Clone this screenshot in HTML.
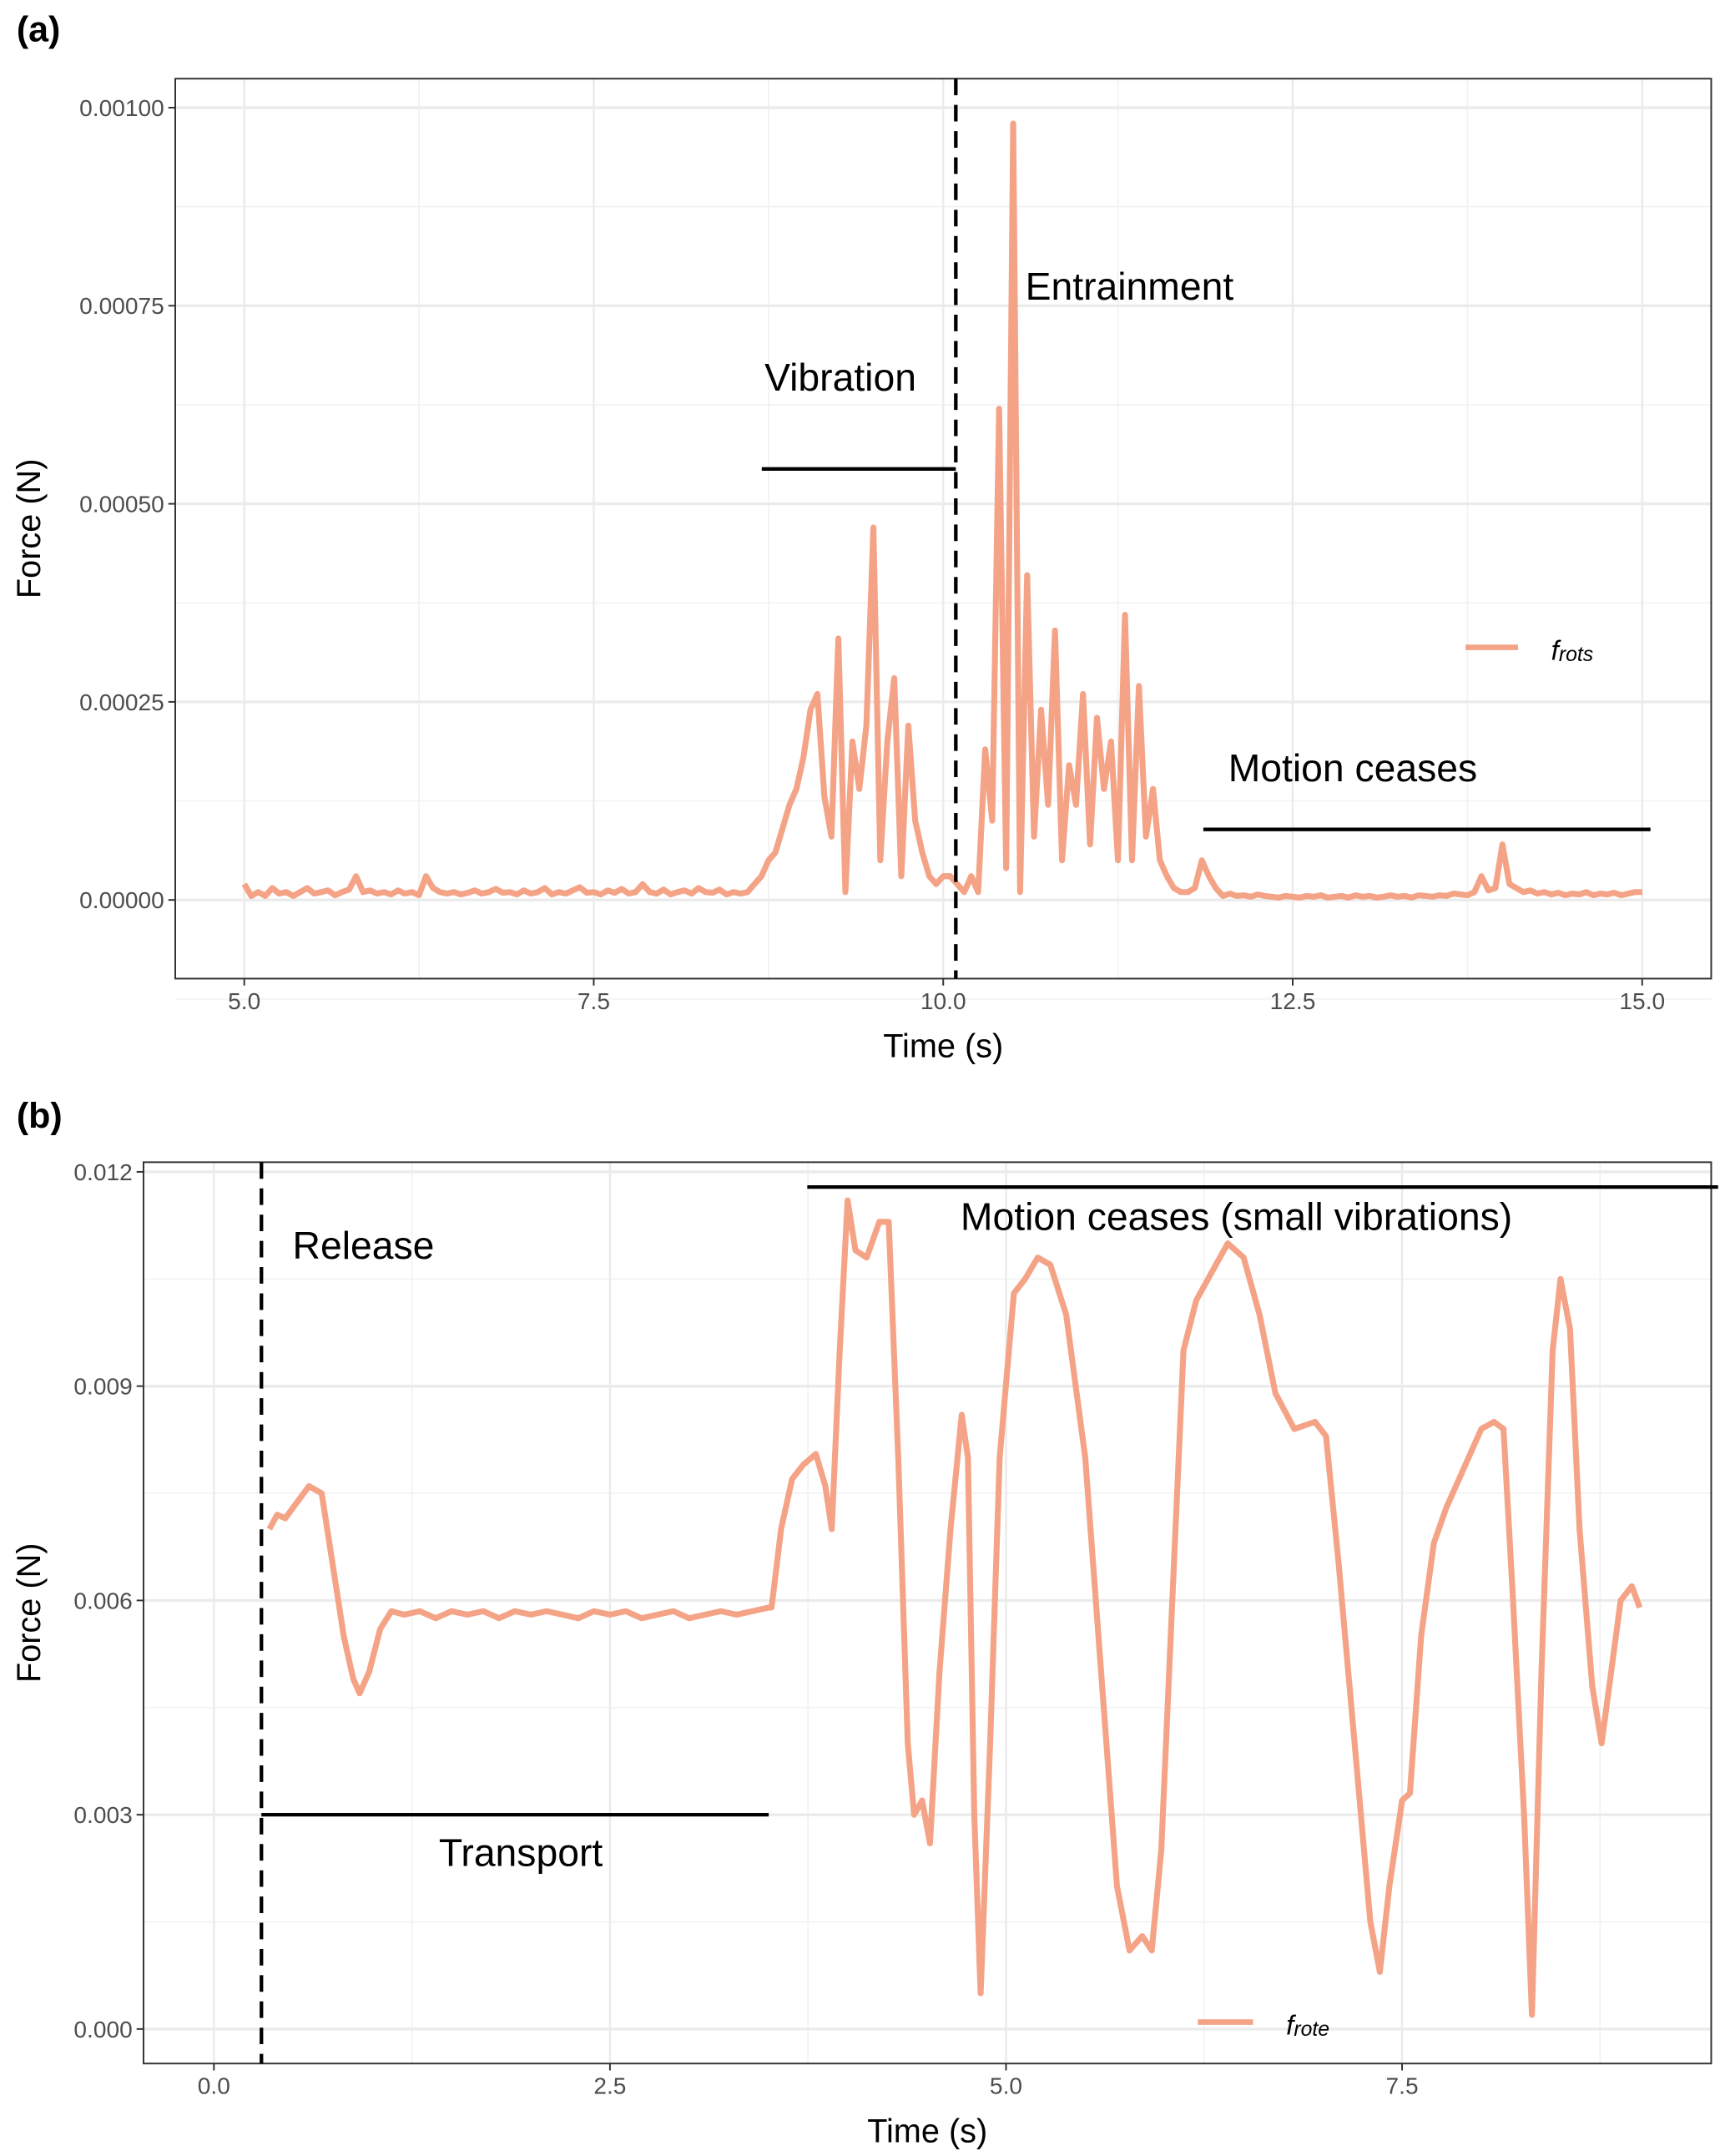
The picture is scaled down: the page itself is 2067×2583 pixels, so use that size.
<!DOCTYPE html>
<html><head><meta charset="utf-8"><style>
html,body{margin:0;padding:0;background:#fff;}
svg{display:block;}
text{font-family:"Liberation Sans",sans-serif;}
</style></head><body>
<svg id="fig" width="2067" height="2583" viewBox="0 0 1250 1562" preserveAspectRatio="none" xmlns="http://www.w3.org/2000/svg">
<g id="pa"></g>
<g id="pb"></g>
</svg>
<script>
// Panel (a) data: force in units of 1e-5 N, time = 5.0 + i*0.05
const aStart = 5.0, aStep = 0.05;
const aForce = [
2,0.5,1,0.5,1.5,0.8,1,0.5,1,1.5,
0.8,1,1.2,0.6,1,1.3,3,1,1.2,0.8,
1,0.7,1.2,0.8,1,0.6,3,1.5,1,0.8,
1,0.7,0.9,1.2,0.8,1,1.4,0.9,1,0.7,
1.2,0.8,1,1.5,0.7,1,0.8,1.2,1.6,0.9,
1,0.7,1.2,0.9,1.4,0.8,1,2,1,0.8,
1.3,0.7,1,1.2,0.8,1.5,1,0.9,1.3,0.7,
1,0.8,
1,2,3,5,6,9,12,14,18,24,26,13,8,33,1,20,14,22,47,5,20,28,3,22,10,6,3,2,3,3,2,
1,3,1,19,10,62,4,98,1,41,8,24,12,34,5,17,12,26,7,23,14,20,5,36,5,27,8,14,5,3,1.5,1,1,1.5,5,3,1.5,0.5,
0.8,0.5,0.6,0.4,0.7,0.5,0.4,0.3,0.5,0.4,
0.3,0.5,0.4,0.6,0.3,0.4,0.5,0.3,0.6,0.4,
0.5,0.3,0.4,0.6,0.4,0.5,0.3,0.6,0.5,0.4,
0.6,0.5,0.8,0.7,0.6,1,3,1.2,1.5,7,
2,1.5,1,1.2,0.8,1,0.7,0.9,0.6,0.8,
0.7,1,0.6,0.8,0.7,0.9,0.6,0.8,1,1
];
const aXTicks = [5.0, 7.5, 10.0, 12.5, 15.0];
const aXTickLabels = ["5.0","7.5","10.0","12.5","15.0"];
const aYTicks = [0, 0.00025, 0.0005, 0.00075, 0.001];
const aYTickLabels = ["0.00000","0.00025","0.00050","0.00075","0.00100"];

// Panel (b) data: time (s) and force in units of 1e-3 N
const bTime = [0.35,0.4,0.45,0.5,0.6,0.68,0.75,0.82,0.88,0.92,0.98,1.05,1.12,
1.2,1.3,1.4,1.5,1.6,1.7,1.8,1.9,2.0,2.1,2.2,2.3,2.4,2.5,2.6,2.7,2.8,2.9,3.0,3.1,3.2,3.3,3.4,3.5,
3.52,3.58,3.65,3.72,3.8,3.86,3.9,3.95,4.0,4.05,4.12,4.2,4.26,4.32,4.38,4.42,4.47,4.52,4.58,4.65,4.72,4.76,4.8,4.84,4.9,4.96,
5.05,5.12,5.2,5.28,5.38,5.5,5.6,5.7,5.78,5.86,5.92,5.98,6.05,6.12,6.2,6.3,6.4,6.5,6.6,6.7,6.82,6.95,7.02,7.1,7.2,7.3,7.36,7.42,7.5,7.55,7.62,7.7,7.78,7.9,8.0,8.08,8.14,8.2,8.27,8.32,8.38,8.45,8.5,8.56,8.62,8.7,8.76,8.82,8.88,8.95,9.0];
const bForce = [7.0,7.2,7.15,7.3,7.6,7.5,6.5,5.5,4.9,4.7,5.0,5.6,5.85,
5.8,5.85,5.75,5.85,5.8,5.85,5.75,5.85,5.8,5.85,5.8,5.75,5.85,5.8,5.85,5.75,5.8,5.85,5.75,5.8,5.85,5.8,5.85,5.9,
5.9,7.0,7.7,7.9,8.05,7.6,7.0,9.5,11.6,10.9,10.8,11.3,11.3,8.0,4.0,3.0,3.2,2.6,5.0,7.0,8.6,8.0,3.0,0.5,4.0,8.0,
10.3,10.5,10.8,10.7,10.0,8.0,5.0,2.0,1.1,1.3,1.1,2.5,6.0,9.5,10.2,10.6,11.0,10.8,10.0,8.9,8.4,8.5,8.3,6.5,4.0,1.5,0.8,2.0,3.2,3.3,5.5,6.8,7.3,7.9,8.4,8.5,8.4,6.0,3.0,0.2,5.0,9.5,10.5,9.8,7.0,4.8,4.0,5.0,6.0,6.2,5.9];
const bXTicks = [0, 2.5, 5.0, 7.5];
const bXTickLabels = ["0.0","2.5","5.0","7.5"];
const bYTicks = [0, 0.003, 0.006, 0.009, 0.012];
const bYTickLabels = ["0.000","0.003","0.006","0.009","0.012"];

const NS = "http://www.w3.org/2000/svg";
const LINE = "#F4A386";
function mk(parent, tag, attrs, txt){
  const e = document.createElementNS(NS, tag);
  for (const k in attrs) e.setAttribute(k, attrs[k]);
  if (txt !== undefined) e.textContent = txt;
  parent.appendChild(e);
  return e;
}
function axisFns(x0,x1,y0,y1,dx0,dx1,dy0,dy1){
  return {
    sx: v => x0 + (v-dx0)/(dx1-dx0)*(x1-x0),
    sy: v => y0 + (v-dy0)/(dy1-dy0)*(y1-y0)
  };
}

function panel(g, o){
  const {L,R,T,B,sx,sy,xt,xtl,yt,ytl,xMinor,yMinor} = o;
  const bg = mk(g,'rect',{x:L,y:T,width:R-L,height:B-T,fill:'#fff'});
  
  
  xMinor.forEach(v=>{ const l=mk(g,'line',{x1:sx(v),x2:sx(v),y1:T,y2:B,stroke:'#f2f2f2','stroke-width':1});
     });
  yMinor.forEach(v=>{ const l=mk(g,'line',{x1:L,x2:R,y1:sy(v),y2:sy(v),stroke:'#f2f2f2','stroke-width':1});
     });
  xt.forEach((v,i)=>{
    const l=mk(g,'line',{x1:sx(v),x2:sx(v),y1:T,y2:B,stroke:'#ebebeb','stroke-width':1.5});
     
    const t=mk(g,'line',{x1:sx(v),x2:sx(v),y1:B,y2:B+5,stroke:'#333','stroke-width':1.2});
     
    const tx=mk(g,'text',{x:sx(v),y:B+22,'font-size':17,fill:'#4d4d4d','text-anchor':'middle'},xtl[i]);
     
  });
  yt.forEach((v,i)=>{
    const l=mk(g,'line',{x1:L,x2:R,y1:sy(v),y2:sy(v),stroke:'#ebebeb','stroke-width':2});
     
    const t=mk(g,'line',{x1:L-5,x2:L,y1:sy(v),y2:sy(v),stroke:'#333','stroke-width':1.2});
     
    const tx=mk(g,'text',{x:L-8,y:sy(v)+6,'font-size':17,fill:'#4d4d4d','text-anchor':'end'},ytl[i]);
     
  });
}

// Panel A
(function(){
  const g = document.getElementById('pa');
  const L=127,R=1240,T=57,B=709;
  const {sx,sy} = axisFns(177,1190,652,78,5,15,0,0.001);
  panel(g,{L,R,T,B,sx,sy,xt:aXTicks,xtl:aXTickLabels,yt:aYTicks,ytl:aYTickLabels,
    xMinor:[6.25,8.75,11.25,13.75],yMinor:[0.000125,0.000375,0.000625,0.000875,-0.000125]});
  const pts = aForce.map((v,i)=> sx(aStart+i*aStep).toFixed(1)+','+sy(v*1e-5).toFixed(1)).join(' ');
  const pl = mk(g,'polyline',{points:pts,fill:'none',stroke:LINE,'stroke-width':4.3,'stroke-linejoin':'round'});
   
  const border = mk(g,'rect',{x:L,y:T,width:R-L,height:B-T,fill:'none',stroke:'#333','stroke-width':1.2});
   
  const d = mk(g,'line',{x1:sx(10.09),x2:sx(10.09),y1:T,y2:B,stroke:'#000','stroke-width':2.6,'stroke-dasharray':'12,7'});
   
  const s1 = mk(g,'line',{x1:552,x2:sx(10.09),y1:sy(0.000544),y2:sy(0.000544),stroke:'#000','stroke-width':2.6});
   
  const s2 = mk(g,'line',{x1:872,x2:1196,y1:sy(0.000089),y2:sy(0.000089),stroke:'#000','stroke-width':2.6});
   
  const t1=mk(g,'text',{x:554,y:283,'font-size':28},'Vibration');
   
  const t2=mk(g,'text',{x:743,y:217,'font-size':28},'Entrainment');
   
  const t3=mk(g,'text',{x:890,y:566,'font-size':28},'Motion ceases');
   
  const lg=mk(g,'line',{x1:1062,x2:1100,y1:469,y2:469,stroke:LINE,'stroke-width':4});
   
  const lt=mk(g,'text',{x:1124,y:478,'font-size':20,'font-style':'italic','font-family':'Liberation Serif, serif'});
   
  lt.innerHTML = 'f<tspan font-size="15" dy="1">rots</tspan>';
  const xa=mk(g,'text',{x:(L+R)/2,y:766,'font-size':24,'text-anchor':'middle'},'Time (s)');
   
  const ya=mk(g,'text',{x:29,y:(T+B)/2,'font-size':24,'text-anchor':'middle',transform:`rotate(-90 29 ${(T+B)/2})`},'Force (N)');
   
  const pl2=mk(g,'text',{x:12,y:30,'font-size':26,'font-weight':'bold'},'(a)');
   
})();

// Panel B
(function(){
  const g = document.getElementById('pb');
  const L=104,R=1240,T=842,B=1495;
  const {sx,sy} = axisFns(155,1016,1470,849,0,7.5,0,0.012);
  panel(g,{L,R,T,B,sx,sy,xt:bXTicks,xtl:bXTickLabels,yt:bYTicks,ytl:bYTickLabels,
    xMinor:[1.25,3.75,6.25,8.75],yMinor:[0.0015,0.0045,0.0075,0.0105]});
  const pts = bTime.map((t,i)=> sx(t).toFixed(1)+','+sy(bForce[i]*1e-3).toFixed(1)).join(' ');
  const pl = mk(g,'polyline',{points:pts,fill:'none',stroke:LINE,'stroke-width':4.3,'stroke-linejoin':'round'});
   
  const border = mk(g,'rect',{x:L,y:T,width:R-L,height:B-T,fill:'none',stroke:'#333','stroke-width':1.2});
   
  const d = mk(g,'line',{x1:sx(0.3),x2:sx(0.3),y1:T,y2:B,stroke:'#000','stroke-width':2.6,'stroke-dasharray':'12,7'});
   
  const s1 = mk(g,'line',{x1:sx(0.3),x2:557,y1:sy(0.003),y2:sy(0.003),stroke:'#000','stroke-width':2.6});
   
  const s2 = mk(g,'line',{x1:585,x2:1245,y1:860,y2:860,stroke:'#000','stroke-width':2.6});
   
  const t1=mk(g,'text',{x:212,y:912,'font-size':28},'Release');
   
  const t2=mk(g,'text',{x:318,y:1352,'font-size':28},'Transport');
   
  const t3=mk(g,'text',{x:696,y:891,'font-size':28},'Motion ceases (small vibrations)');
   
  const lg=mk(g,'line',{x1:868,x2:908,y1:1465,y2:1465,stroke:LINE,'stroke-width':4});
   
  const lt=mk(g,'text',{x:932,y:1474,'font-size':20,'font-style':'italic','font-family':'Liberation Serif, serif'});
   
  lt.innerHTML = 'f<tspan font-size="15" dy="1">rote</tspan>';
  const xa=mk(g,'text',{x:(L+R)/2,y:1552,'font-size':24,'text-anchor':'middle'},'Time (s)');
   
  const ya=mk(g,'text',{x:29,y:(T+B)/2,'font-size':24,'text-anchor':'middle',transform:`rotate(-90 29 ${(T+B)/2})`},'Force (N)');
   
  const pl2=mk(g,'text',{x:12,y:817,'font-size':26,'font-weight':'bold'},'(b)');
   
})();
</script>
</body></html>
